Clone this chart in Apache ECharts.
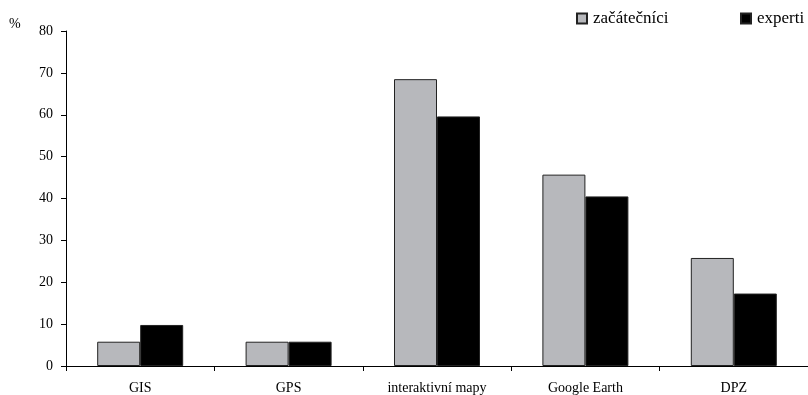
<!DOCTYPE html>
<html>
<head>
<meta charset="utf-8">
<script src="https://cdn.jsdelivr.net/npm/echarts@6/dist/echarts.min.js"></script>
<style>
html,body{margin:0;padding:0;background:#fff;}
#chart{width:808px;height:395px;}
</style>
</head>
<body>
<div id="chart"></div>
<script>
// Categories and percentages for each group
var categories = ['GIS', 'GPS', 'interaktivní mapy', 'Google Earth', 'DPZ'];
var zacatecnici = [5.8, 5.8, 68.5, 45.7, 25.8];
var experti = [9.8, 5.8, 59.6, 40.5, 17.3];
var yTicks = [0, 10, 20, 30, 40, 50, 60, 70, 80];
var seriesNames = ['začátečníci', 'experti'];

var serif = '"Liberation Serif", "Times New Roman", "DejaVu Serif", serif';

function legendAt(left, name) {
  return {
    left: left,
    top: 10,
    itemWidth: 10,
    itemHeight: 10,
    itemGap: 0,
    icon: 'rect',
    padding: 0,
    textStyle: { fontFamily: serif, fontSize: 17, color: '#000', padding: [0, 0, 0, 1] },
    data: [name]
  };
}

var chart = echarts.init(document.getElementById('chart'));
chart.setOption({
  animation: false,
  backgroundColor: '#fff',
  textStyle: { fontFamily: serif, color: '#000' },
  legend: [legendAt(576, seriesNames[0]), legendAt(740, seriesNames[1])],
  graphic: [{
    type: 'text',
    left: 9,
    top: 17,
    style: { text: '%', font: '14px ' + serif, fill: '#000' }
  }],
  grid: { left: 66, top: 31, width: 746, height: 336, containLabel: false },
  xAxis: {
    type: 'category',
    data: categories,
    axisLine: { lineStyle: { color: '#000', width: 1 } },
    axisTick: { show: true, length: 5, lineStyle: { color: '#000' } },
    axisLabel: { color: '#000', fontFamily: serif, fontSize: 14, margin: 15 }
  },
  yAxis: {
    type: 'value',
    min: yTicks[0],
    max: yTicks[yTicks.length - 1],
    interval: 10,
    axisLine: { show: true, lineStyle: { color: '#000', width: 1 } },
    axisTick: { show: true, length: 5, lineStyle: { color: '#000' } },
    axisLabel: { color: '#000', fontFamily: serif, fontSize: 14, margin: 13 },
    splitLine: { show: false }
  },
  series: [{
    name: seriesNames[0],
    type: 'bar',
    data: zacatecnici,
    barWidth: 43,
    barGap: '0%',
    itemStyle: { color: '#b7b8bc', borderColor: '#222', borderWidth: 1 }
  }, {
    name: seriesNames[1],
    type: 'bar',
    data: experti,
    barWidth: 43,
    barGap: '0%',
    itemStyle: { color: '#000', borderColor: '#222', borderWidth: 1 }
  }]
});
</script>
</body>
</html>
